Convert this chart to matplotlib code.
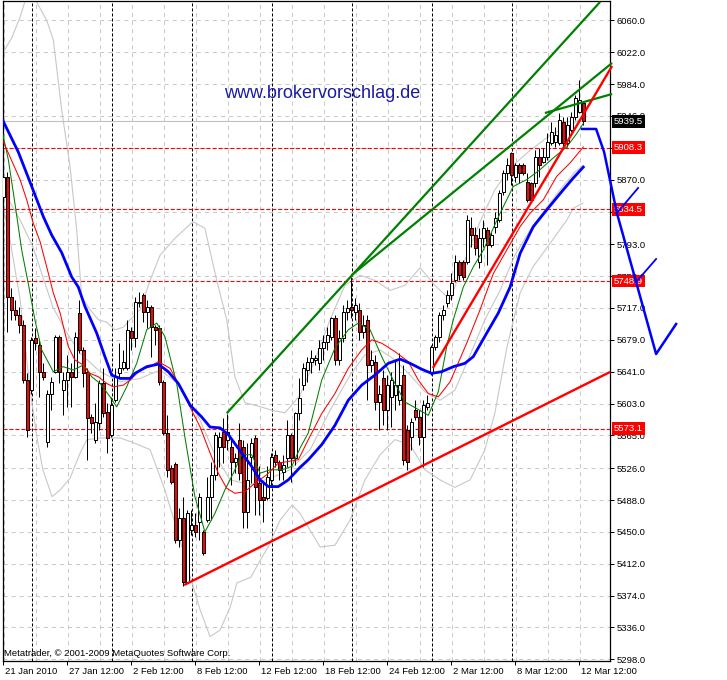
"""MetaTrader style H4 candle chart (DAX, 21 Jan - 12 Mar 2010) with MAs,
Bollinger bands, trend lines and a hand drawn forecast.  Writes out.png."""
import matplotlib
matplotlib.use("Agg")
import matplotlib.pyplot as plt
import matplotlib.transforms as mtransforms

W, H = 727, 680

# ---- candles (bar index 0 = 21 Jan 2010, 4 bars a day) ----
opens = [5849, 5873, 5730, 5715, 5709, 5697, 5631, 5619, 5681, 5673,
         5641, 5557, 5615, 5641, 5682, 5619, 5631, 5641, 5635, 5711,
         5667, 5641, 5587, 5560, 5580, 5627, 5593, 5565, 5607, 5639,
         5645, 5646, 5689, 5681, 5723, 5733, 5712, 5718, 5694, 5693,
         5629, 5568, 5526, 5531, 5440, 5466, 5390, 5452, 5458, 5462,
         5450, 5464, 5492, 5518, 5551, 5569, 5560, 5551, 5533, 5560,
         5551, 5474, 5539, 5562, 5508, 5492, 5490, 5512, 5542, 5533,
         5521, 5538, 5565, 5538, 5592, 5625, 5643, 5653, 5655, 5651,
         5669, 5676, 5682, 5705, 5655, 5681, 5712, 5718, 5712, 5715,
         5688, 5703, 5649, 5653, 5605, 5633, 5595, 5611, 5613, 5607,
         5637, 5571, 5563, 5595, 5587, 5563, 5599, 5641, 5670, 5682,
         5709, 5723, 5733, 5750, 5772, 5772, 5772, 5812, 5804, 5772,
         5800, 5810, 5792, 5814, 5822, 5855, 5878, 5902, 5873, 5888,
         5888, 5867, 5866, 5866, 5897, 5891, 5897, 5914, 5915, 5914,
         5939, 5914, 5929, 5945, 5951, 5962]
highs = [5908, 5879, 5741, 5727, 5718, 5703, 5639, 5682, 5693, 5679,
         5651, 5619, 5635, 5685, 5685, 5641, 5661, 5651, 5688, 5727,
         5671, 5646, 5591, 5604, 5631, 5646, 5604, 5611, 5646, 5675,
         5667, 5703, 5694, 5730, 5736, 5735, 5727, 5721, 5697, 5697,
         5631, 5589, 5530, 5533, 5478, 5492, 5476, 5476, 5472, 5496,
         5452, 5515, 5533, 5569, 5569, 5586, 5591, 5560, 5544, 5580,
         5560, 5556, 5562, 5565, 5529, 5508, 5529, 5544, 5548, 5536,
         5542, 5583, 5568, 5593, 5633, 5651, 5658, 5667, 5661, 5679,
         5685, 5694, 5706, 5709, 5691, 5721, 5727, 5754, 5729, 5723,
         5709, 5709, 5667, 5661, 5625, 5643, 5637, 5641, 5655, 5663,
         5649, 5577, 5586, 5607, 5595, 5607, 5613, 5673, 5685, 5712,
         5721, 5738, 5759, 5780, 5774, 5774, 5828, 5826, 5814, 5812,
         5822, 5814, 5808, 5831, 5858, 5882, 5896, 5903, 5890, 5890,
         5890, 5878, 5867, 5905, 5908, 5908, 5926, 5939, 5933, 5950,
         5945, 5945, 5951, 5971, 5989, 5964]
lows = [5846, 5688, 5703, 5703, 5687, 5627, 5563, 5615, 5667, 5611,
        5631, 5551, 5595, 5639, 5627, 5589, 5599, 5599, 5633, 5663,
        5623, 5536, 5568, 5556, 5571, 5587, 5544, 5563, 5605, 5635,
        5643, 5643, 5667, 5671, 5718, 5700, 5693, 5658, 5673, 5625,
        5565, 5515, 5507, 5437, 5432, 5386, 5389, 5446, 5444, 5440,
        5422, 5462, 5464, 5512, 5527, 5532, 5548, 5506, 5520, 5512,
        5455, 5455, 5508, 5470, 5470, 5462, 5488, 5503, 5527, 5512,
        5512, 5527, 5509, 5530, 5583, 5619, 5629, 5639, 5649, 5643,
        5655, 5667, 5679, 5649, 5649, 5676, 5703, 5705, 5703, 5679,
        5681, 5607, 5641, 5595, 5571, 5577, 5571, 5575, 5595, 5601,
        5530, 5524, 5548, 5583, 5554, 5527, 5595, 5637, 5667, 5676,
        5703, 5718, 5727, 5748, 5750, 5750, 5770, 5790, 5780, 5765,
        5790, 5768, 5790, 5806, 5820, 5852, 5870, 5864, 5867, 5866,
        5876, 5843, 5843, 5861, 5873, 5890, 5894, 5911, 5909, 5911,
        5909, 5909, 5927, 5941, 5950, 5935]
closes = [5873, 5730, 5715, 5709, 5697, 5631, 5571, 5679, 5675, 5641,
          5635, 5615, 5629, 5682, 5641, 5631, 5641, 5635, 5682, 5667,
          5639, 5586, 5580, 5581, 5627, 5592, 5562, 5601, 5635, 5645,
          5653, 5691, 5681, 5724, 5724, 5712, 5718, 5694, 5691, 5629,
          5568, 5524, 5509, 5440, 5466, 5390, 5472, 5458, 5450, 5492,
          5425, 5492, 5518, 5565, 5563, 5551, 5569, 5533, 5538, 5520,
          5474, 5512, 5556, 5503, 5488, 5488, 5515, 5539, 5533, 5524,
          5530, 5565, 5538, 5592, 5610, 5645, 5653, 5657, 5657, 5669,
          5676, 5685, 5705, 5655, 5681, 5712, 5717, 5715, 5721, 5688,
          5697, 5649, 5655, 5605, 5615, 5595, 5625, 5631, 5625, 5625,
          5536, 5533, 5581, 5587, 5563, 5601, 5604, 5670, 5682, 5709,
          5715, 5733, 5747, 5772, 5756, 5754, 5822, 5804, 5789, 5800,
          5812, 5792, 5804, 5824, 5854, 5878, 5888, 5876, 5888, 5878,
          5878, 5846, 5846, 5897, 5888, 5897, 5915, 5927, 5923, 5941,
          5914, 5935, 5945, 5967, 5965, 5939.5]

# ---- indicators as (bar index, price) ----
blue_x = [-0.15, 3.75, 7.1, 10, 12.1, 14.6, 17.1, 18.75, 20.4, 23.35, 25.4, 27.1,
          29.2, 31.7, 32.9, 35.85, 38.75, 41.25, 43.75, 46.7, 49.6, 51.7, 54.2,
          56.25, 59.6, 62.1, 64.2, 66.25, 68.75, 71.25, 74, 76.25, 79.6, 82.9,
          86.25, 89.6, 92.9, 96.25, 99.2, 101.7, 104.6, 107.1, 109.6, 112.5,
          115.4, 117.5, 120.85, 123.75, 126.7, 129.2, 132.5, 135.85, 140,
          142.5, 145]
blue_p = [5941, 5903, 5862, 5826, 5804, 5783, 5754, 5742, 5719, 5687, 5659, 5637,
          5633, 5633, 5639, 5647, 5650, 5641, 5627, 5601, 5587, 5575, 5574,
          5566, 5544, 5528, 5512, 5504, 5504, 5512, 5526, 5536, 5554, 5577,
          5607, 5625, 5637, 5651, 5656, 5651, 5644, 5639, 5641, 5647,
          5651, 5659, 5687, 5711, 5742, 5782, 5814, 5834, 5858,
          5872, 5885]
red_x = [-0.15, 1.7, 4.2, 5.85, 7.5, 9.2, 10.85, 12.5, 14.2, 16.25, 17.9, 20,
         21.7, 23.75, 25.85, 27.5, 30, 31.7, 34.2, 36.7, 38.75, 41.7, 44.2,
         47.1, 49.2, 51.7, 53.75, 55.85, 57.9, 60.4, 62.9, 65.85, 68.75, 71.25,
         73.75, 76.25, 79.6, 82.9, 86.25, 89.6, 92.1, 94.6, 97.9, 101.25,
         103.75, 106.25, 108.75, 111.7, 115.85, 119.2, 122.5, 125.85, 129.2,
         131.7, 135, 138.35, 141.7, 145]
red_p = [5917, 5897, 5870, 5846, 5818, 5796, 5766, 5735, 5711, 5671, 5655, 5649,
         5639, 5635, 5627, 5623, 5625, 5631, 5643, 5647, 5653, 5645, 5623,
         5595, 5575, 5544, 5520, 5502, 5496, 5498, 5508, 5518, 5532, 5534,
         5536, 5560, 5591, 5615, 5645, 5667, 5679, 5675, 5665, 5653,
         5631, 5615, 5611, 5629, 5675, 5715, 5758, 5786, 5814,
         5830, 5846, 5874, 5890, 5909]
green_x = [-0.15, 1.25, 2.9, 4.6, 6.25, 7.9, 9.6, 12.5, 15, 17.5, 20, 22.1,
           24.2, 26.7, 28.35, 30.85, 33.35, 35.85, 38.35, 40.4, 43.35, 45.4,
           47.9, 50.4, 52.9, 55.4, 57.5, 59.6, 62.1, 64.2, 66.7, 69.6, 72.1,
           74.2, 76.25, 79.6, 82.9, 86.25, 88.75, 91.7, 94.6, 97.9, 100.4,
           103.35, 106.25, 108.75, 110.85, 112.5, 115, 117.5, 120, 124.2,
           127.5, 130.85, 134.2, 137.5, 140.85, 143.35, 145]
green_p = [5925, 5894, 5842, 5786, 5746, 5703, 5667, 5641, 5647, 5643, 5649, 5635,
           5627, 5611, 5599, 5623, 5651, 5691, 5699, 5683, 5627, 5563,
           5492, 5450, 5472, 5500, 5520, 5542, 5542, 5520, 5524, 5524, 5528,
           5550, 5568, 5631, 5669, 5691, 5699, 5691, 5659, 5627, 5605,
           5597, 5589, 5617, 5671, 5703, 5742, 5766, 5786, 5830,
           5862, 5870, 5882, 5896, 5909, 5925, 5937]
bb_up_x = [-0.15, 2.1, 4.2, 5.9, 7.4, 10.85, 12.5, 14.6, 16.7, 18.35, 19.6, 21.7,
           23.75, 25.85, 27.9, 30, 31.7, 34.2, 36.7, 39.2, 42.9, 47.4, 50.4,
           53.35, 55.85, 57.9, 60.4, 63.7, 67.2, 70.4, 74.2, 77.9, 81.7, 85.4,
           89.2, 92.9, 96.7, 100.4, 104.2, 107.9, 111.7, 115.4, 119.2, 122.9,
           126.7, 131.7, 136.7, 141.7, 144.9]
bb_up_p = [6021, 6039, 6064, 6090, 6090, 6060, 6037, 5953, 5885, 5810, 5730, 5715,
           5703, 5700, 5691, 5694, 5703, 5715, 5750, 5780, 5800, 5820, 5812,
           5750, 5703, 5635, 5604, 5600, 5595, 5592, 5613, 5655, 5703, 5744,
           5756, 5750, 5738, 5744, 5765, 5744, 5727, 5774, 5820, 5858,
           5884, 5905, 5923, 5935, 5944]
bb_mid_x = [-0.1, 4.2, 7.4, 9.9, 12.4, 15.9, 19.2, 24.2, 29.2, 34.2, 39.2, 44.2,
            49.2, 52.9, 56.7, 61.7, 66.7, 71.7, 76.7, 81.7, 86.7, 90.4, 94.2,
            97.9, 101.7, 105.4, 109.2, 112.9, 116.7, 120.4, 124.2, 127.9, 131.7,
            135.4, 139.2, 142.9, 144.9]
bb_mid_p = [5858, 5822, 5790, 5754, 5718, 5687, 5663, 5641, 5629, 5633, 5643, 5625,
            5583, 5542, 5512, 5506, 5514, 5524, 5548, 5595, 5637, 5661, 5667,
            5655, 5637, 5617, 5607, 5619, 5661, 5703, 5738, 5780, 5810,
            5834, 5858, 5879, 5887]
bb_lo_x = [-0.1, 1.7, 4.2, 6.7, 8.4, 9.9, 12.2, 14.2, 16.7, 19.2, 20.9, 24.2,
           29.2, 32.2, 36.7, 40.4, 44.2, 47.2, 49.2, 51.7, 54.2, 56.7, 58.4,
           61.9, 64.2, 66.2, 69.2, 72.2, 74.2, 76.7, 79.2, 82.9, 86.7, 90.4,
           94.2, 97.9, 101.7, 105.4, 109.2, 112.9, 116.7, 120.4, 122.9, 125.9,
           129.2, 132.4, 136.7, 140.9, 142.5, 144.9]
bb_lo_p = [5840, 5798, 5727, 5619, 5563, 5524, 5492, 5500, 5514, 5544, 5560, 5562,
           5562, 5557, 5548, 5500, 5440, 5389, 5357, 5325, 5333, 5360, 5389,
           5396, 5416, 5432, 5464, 5482, 5472, 5452, 5432, 5434, 5464, 5512,
           5542, 5560, 5554, 5524, 5512, 5503, 5512, 5548, 5592, 5670,
           5735, 5766, 5794, 5822, 5836, 5842]

# ---- drawn objects ----
green_lines = [((55.85, 5591.4), (149.2, 6082)),
               ((87.1, 5756.3), (152.2, 6009.2)),
               ((135.4, 5949.5), (152.2, 5972.2))]
red_lines = [((45.2, 5386.6), (151.7, 5640.7)),
             ((107.4, 5645.4), (152.2, 6005.6))]
forecast_x = [144.7, 148.2, 150.2, 153.4, 158.2, 163.2, 168.2]
forecast_p = [5930.5, 5930.5, 5903.0, 5830.3, 5748.0, 5662.1, 5697.9]
forecast_branches = [((153.4, 5830.3), (158.7, 5860.1)),
                     ((158.2, 5748.0), (163.2, 5775.4))]
levels = [5908.3, 5834.5, 5748.9, 5573.1]
bid = 5939.5

price_ticks = [5298.0, 5336.0, 5374.0, 5412.0, 5450.0, 5488.0, 5526.0, 5565.0,
               5603.0, 5641.0, 5679.0, 5717.0, 5755.0, 5793.0, 5832.0, 5870.0,
               5908.0, 5946.0, 5984.0, 6022.0, 6060.0]
date_pos = [0, 16, 32, 48, 64, 80, 96, 112, 128, 144]
date_labels = ["21 Jan 2010", "27 Jan 12:00", "2 Feb 12:00", "8 Feb 12:00",
               "12 Feb 12:00", "18 Feb 12:00", "24 Feb 12:00", "2 Mar 12:00",
               "8 Mar 12:00", "12 Mar 12:00"]
week_sep = [7.1, 27.1, 47.1, 67.1, 87.1, 107.1, 127.1]

FONT = "Liberation Sans"
FS = 6.8
plt.rcParams["font.family"] = [FONT, "DejaVu Sans"]
plt.rcParams["lines.scale_dashes"] = False


def main():
    fig = plt.figure(figsize=(W / 100, H / 100), dpi=100, facecolor="white")
    # plot area in pixels: x 2.7..610, y 1..661
    ax = fig.add_axes([2.7 / W, 19 / H, 607.3 / W, 660 / H])
    ax.set_xlim(-0.15, 151.675)
    ax.set_ylim(5296.0, 6083.1)

    # grid
    for p in price_ticks:
        ax.axhline(p, color="#c8c8c8", lw=0.72, dashes=(2.9, 2.9), zorder=0)
    for i in range(0, 145, 8):
        ax.axvline(i + 0.1, color="#c8c8c8", lw=0.72, dashes=(2.9, 2.9), zorder=0)
    for i in week_sep:
        ax.axvline(i, color="black", lw=0.72, dashes=(2.2, 1.4), zorder=0.5)

    # bollinger bands
    for xs, ps in ((bb_up_x, bb_up_p), (bb_mid_x, bb_mid_p), (bb_lo_x, bb_lo_p)):
        ax.plot(xs, ps, color="#c8c8c8", lw=0.8, zorder=1)

    # level lines
    ax.axhline(bid, color="#c0c0c0", lw=0.8, zorder=1)
    for p in levels:
        ax.axhline(p, color="#ff0000", lw=0.8, dashes=(2.9, 1.4), zorder=1)

    # candles
    idx = list(range(len(opens)))
    ax.vlines(idx, lows, highs, color="black", lw=0.72, zorder=2)
    for i in idx:
        o, c = opens[i], closes[i]
        bottom, height = min(o, c), max(abs(c - o), 0.8)
        face = "white" if c >= o else "#ff0000"
        ax.bar(i, height, bottom=bottom, width=0.65, color=face,
               edgecolor="black", linewidth=0.72, zorder=3)

    # moving averages
    ax.plot(green_x, green_p, color="#008000", lw=0.75, zorder=4)
    ax.plot(red_x, red_p, color="#ff0000", lw=0.75, zorder=4)
    ax.plot(blue_x, blue_p, color="#0000ff", lw=2.0, zorder=4)

    # trend lines
    for (x0, y0), (x1, y1) in green_lines:
        ax.plot([x0, x1], [y0, y1], color="#008000", lw=1.6, zorder=5,
                clip_on=False, solid_capstyle="butt")
    for (x0, y0), (x1, y1) in red_lines:
        ax.plot([x0, x1], [y0, y1], color="#ff0000", lw=1.7, zorder=5,
                clip_on=False, solid_capstyle="butt")

    # axes look
    for s in ax.spines.values():
        s.set_linewidth(0.9)
        s.set_color("black")
    ax.yaxis.tick_right()
    ax.set_yticks(price_ticks)
    ax.set_yticklabels([f"{p:.1f}" for p in price_ticks])
    ax.set_xticks(date_pos)
    ax.set_xticklabels(date_labels)
    ax.tick_params(axis="both", direction="out", length=3, width=0.72,
                   labelsize=FS, pad=1.5)
    shift = mtransforms.ScaledTranslation(2 / 100, 0, fig.dpi_scale_trans)
    for lbl in ax.get_xticklabels():
        lbl.set_horizontalalignment("left")
        lbl.set_transform(lbl.get_transform() + shift)

    # price boxes on the scale
    tr = mtransforms.blended_transform_factory(ax.transAxes, ax.transData)
    tr = tr + mtransforms.ScaledTranslation(4 / 100, 0, fig.dpi_scale_trans)
    for p, bg in [(bid, "black")] + [(p, "#ff0000") for p in levels]:
        ax.text(1.0, p, f"{p:.1f}", transform=tr, ha="left", va="center",
                fontsize=FS, color="white", zorder=10, clip_on=False,
                bbox=dict(boxstyle="square,pad=0.18", fc=bg, ec="none"))

    # hand drawn forecast
    ax.plot(forecast_x, forecast_p, color="#0000ff", lw=1.8, zorder=11,
            clip_on=False)
    for (x0, y0), (x1, y1) in forecast_branches:
        ax.plot([x0, x1], [y0, y1], color="#0000ff", lw=1.3, zorder=11,
                clip_on=False)

    fig.text(322 / W, 1 - 93 / H, "www.brokervorschlag.de", color="#1a1aa6",
             fontsize=13, ha="center", va="center")
    fig.text(4 / W, 1 - 654 / H,
             "Metatrader, \u00a9 2001-2009 MetaQuotes Software Corp.",
             fontsize=FS, ha="left", va="center")

    fig.savefig("out.png", dpi=100, facecolor="white")
    plt.close(fig)


if __name__ == "__main__":
    main()
